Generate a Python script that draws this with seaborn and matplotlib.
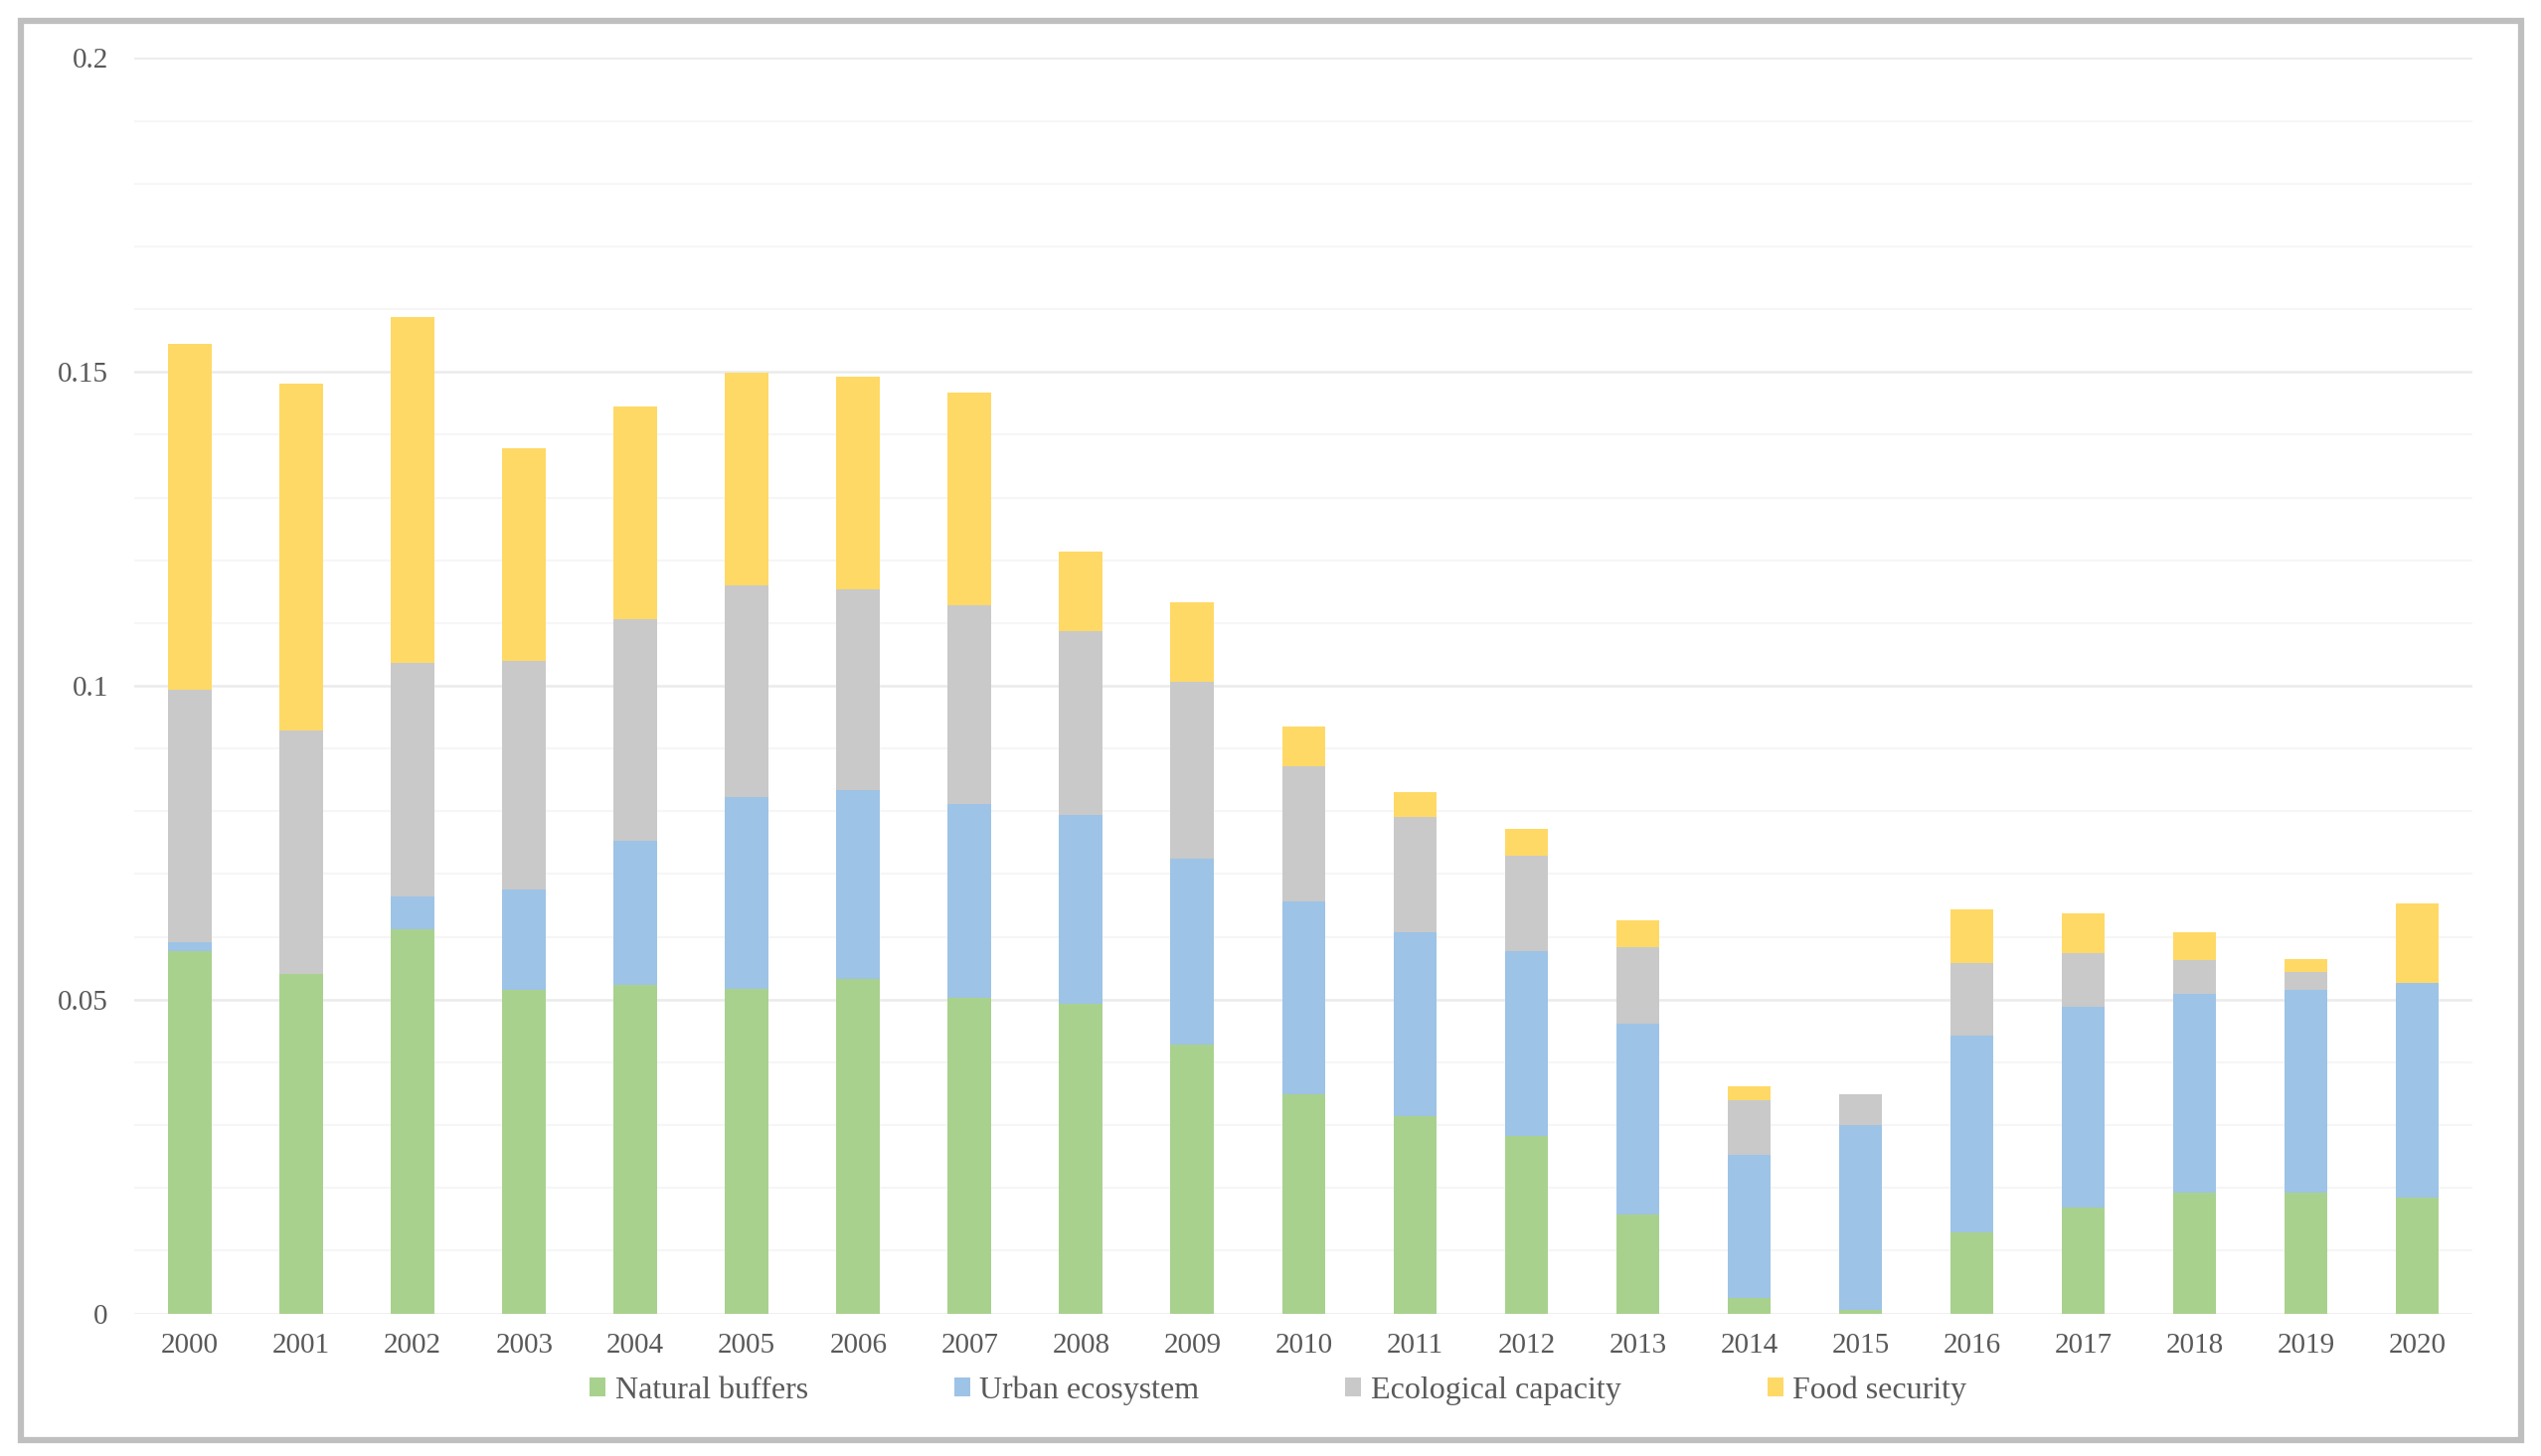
import numpy as np
import pandas as pd
import seaborn as sns
import matplotlib.pyplot as plt
from matplotlib.patches import Patch, Rectangle
from matplotlib.ticker import MultipleLocator, FuncFormatter

# Valores
years = [str(y) for y in range(2000, 2021)]
natural_buffers = [0.0577, 0.0541, 0.0612, 0.0515, 0.0523, 0.0517, 0.0533, 0.0503, 0.0493, 0.0428, 0.0350,
                   0.0315, 0.0282, 0.0157, 0.0024, 0.0006, 0.0129, 0.0168, 0.0192, 0.0192, 0.0185]
urban_ecosystem = [0.0015, 0.0000, 0.0052, 0.0160, 0.0230, 0.0305, 0.0300, 0.0309, 0.0301, 0.0296, 0.0307,
                   0.0292, 0.0295, 0.0305, 0.0228, 0.0294, 0.0313, 0.0321, 0.0317, 0.0324, 0.0341]
ecological_capacity = [0.0401, 0.0388, 0.0372, 0.0364, 0.0353, 0.0338, 0.0320, 0.0316, 0.0293, 0.0283, 0.0214,
                       0.0184, 0.0153, 0.0121, 0.0088, 0.0049, 0.0116, 0.0085, 0.0054, 0.0028, 0.0000]
food_security = [0.0552, 0.0552, 0.0552, 0.0339, 0.0339, 0.0339, 0.0340, 0.0339, 0.0127, 0.0126, 0.0064,
                 0.0040, 0.0042, 0.0043, 0.0022, 0.0000, 0.0085, 0.0064, 0.0044, 0.0021, 0.0127]

series_names = ["Natural buffers", "Urban ecosystem", "Ecological capacity", "Food security"]
series_colors = ["#a9d18e", "#9dc3e6", "#c9c9c9", "#ffd966"]

df = pd.DataFrame({
    "Year": years,
    "Natural buffers": natural_buffers,
    "Urban ecosystem": urban_ecosystem,
    "Ecological capacity": ecological_capacity,
    "Food security": food_security,
})

# Ambiente do gráfico
sns.set_style("white")
plt.rcParams["font.family"] = ["Liberation Serif", "DejaVu Serif"]
text_color = "#595959"

fig = plt.figure(figsize=(25.56, 14.65), dpi=100)
ax = fig.add_axes([0.0529, 0.0979, 0.9203, 0.8622])

# Barras empilhadas
bottom = np.zeros(len(years))
for name, color in zip(series_names, series_colors):
    sns.barplot(data=df, x="Year", y=name, color=color, bottom=bottom, width=0.39,
                saturation=1, errorbar=None, linewidth=0, edgecolor="none", ax=ax)
    bottom += df[name].to_numpy()

# Eixos e grade
ax.set_xlim(-0.5, len(years) - 0.5)
ax.set_ylim(0, 0.2)
ax.yaxis.set_major_locator(MultipleLocator(0.05))
ax.yaxis.set_minor_locator(MultipleLocator(0.01))
ax.yaxis.set_major_formatter(FuncFormatter(lambda v, p: f"{round(v, 3):g}"))
ax.grid(which="major", axis="y", color="#ebebeb", lw=1.8)
ax.grid(which="minor", axis="y", color="#f6f6f6", lw=1.5)
ax.set_axisbelow(True)
for s in ax.spines.values():
    s.set_visible(False)
ax.set_xlabel("")
ax.set_ylabel("")
ax.tick_params(axis="both", which="both", length=0, labelsize=21, colors=text_color)
ax.tick_params(axis="y", pad=19)
ax.tick_params(axis="x", pad=14)

# Legenda
handles = [Patch(facecolor=c, edgecolor="none", label=n) for n, c in zip(series_names, series_colors)]
fig.legend(handles=handles, loc="center", bbox_to_anchor=(0.503, 0.045), ncol=4, frameon=False,
           fontsize=23, handlelength=0.5, handleheight=0.5, handletextpad=0.3, columnspacing=4.6,
           labelcolor=text_color)

# Moldura externa
fig.add_artist(Rectangle((0.0083, 0.0111), 0.984, 0.9744, transform=fig.transFigure,
                         fill=False, edgecolor="#bfbfbf", lw=4.5))

fig.savefig("out.png", dpi=100)
